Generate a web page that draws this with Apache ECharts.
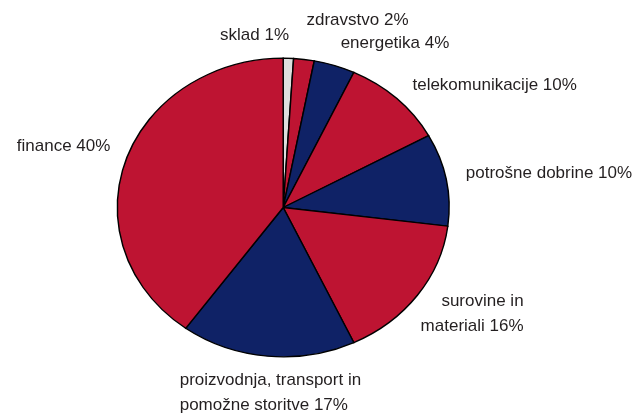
<!DOCTYPE html>
<html>
<head>
<meta charset="utf-8">
<script src="https://cdn.jsdelivr.net/npm/echarts@6/dist/echarts.min.js"></script>
<style>
  html, body { margin: 0; padding: 0; background: #ffffff; }
  #chart { width: 638px; height: 414px; }
</style>
</head>
<body>
<div id="chart"></div>
<script>
// Sector shares (%), listed clockwise from 12 o'clock
const categories = [
  'sklad',
  'zdravstvo',
  'energetika',
  'telekomunikacije',
  'potrošne dobrine',
  'surovine in\nmateriali',
  'proizvodnja, transport in\npomožne storitve',
  'finance'
];
const shares = [1, 2, 4, 10, 10, 16, 17, 40];

const sliceColors = ['#dedede', '#be1432', '#0f2266', '#be1432', '#0f2266', '#be1432', '#0f2266', '#be1432'];

// Label placement: text alignment and a small nudge from the default anchor
const labelPlacement = [
  { align: 'right', dx: 0,   dy: -3 },
  { align: 'left',  dx: 0,   dy: -19 },
  { align: 'left',  dx: 0,   dy: -3 },
  { align: 'left',  dx: 2,   dy: 1 },
  { align: 'left',  dx: 0,   dy: -2 },
  { align: 'right', dx: 90,  dy: 7 },
  { align: 'left',  dx: -86, dy: 17 },
  { align: 'right', dx: 4,   dy: -9 }
];

// Pie geometry: an ellipse (wider than tall)
const pie = { cx: 283.2, cy: 207.5, rx: 165.9, ry: 149.3, labelGap: 20 };

const total = shares.reduce((a, b) => a + b, 0);
const starts = [];
shares.reduce((acc, v, i) => { starts[i] = acc; return acc + v; }, 0);

const chart = echarts.init(document.getElementById('chart'), null, { renderer: 'canvas' });

function renderSlice(params, api) {
  const i = params.dataIndex;
  const v = api.value(0);
  const a0 = -Math.PI / 2 + 2 * Math.PI * starts[i] / total;
  const a1 = a0 + 2 * Math.PI * v / total;
  const mid = (a0 + a1) / 2;

  const p = labelPlacement[i];
  const lx = pie.cx + (pie.rx + pie.labelGap) * Math.cos(mid) + p.dx;
  const ly = pie.cy + (pie.ry + pie.labelGap) * Math.sin(mid) + p.dy;

  return {
    type: 'group',
    children: [
      {
        type: 'sector',
        shape: { cx: pie.cx, cy: pie.cy, r: pie.ry, r0: 0, startAngle: a0, endAngle: a1, clockwise: true },
        originX: pie.cx,
        originY: pie.cy,
        scaleX: pie.rx / pie.ry,
        style: { fill: sliceColors[i], stroke: '#000000', lineWidth: 1.3, strokeNoScale: true }
      },
      {
        type: 'text',
        x: lx,
        y: ly,
        z2: 10,
        style: {
          text: categories[i] + ' ' + v + '%',
          fill: '#231f20',
          font: '17px "Liberation Sans", Arial, sans-serif',
          align: p.align,
          verticalAlign: 'middle',
          lineHeight: 25
        }
      }
    ]
  };
}

chart.setOption({
  animation: false,
  backgroundColor: '#ffffff',
  series: [{
    type: 'custom',
    coordinateSystem: 'none',
    renderItem: renderSlice,
    data: shares.map(v => [v])
  }]
});
</script>
</body>
</html>
